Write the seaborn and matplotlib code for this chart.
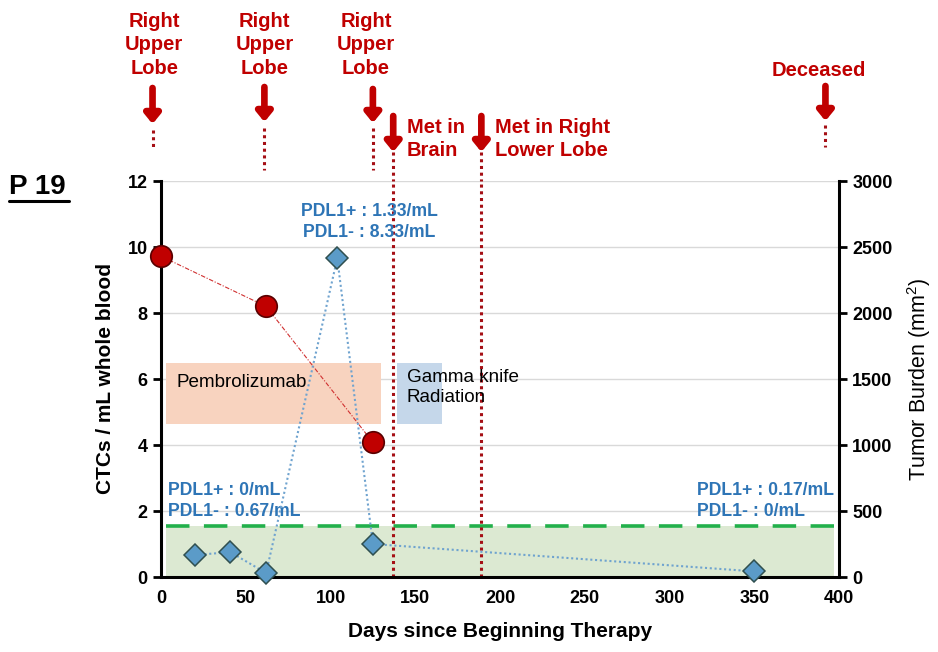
import matplotlib
matplotlib.use("Agg")
import matplotlib.pyplot as plt
import matplotlib.transforms as mtransforms
from matplotlib.patches import Rectangle
import seaborn as sns
import pandas as pd

# ---------------- data ----------------
ctc_days = [20, 41, 62, 104, 125, 350]
ctc_vals = [0.67, 0.75, 0.12, 9.66, 1.0, 0.17]
tumor_days = [0, 62, 125]
tumor_vals = [2430, 2050, 1020]
threshold = 1.55
x_ticks = [0, 50, 100, 150, 200, 250, 300, 350, 400]
y_ticks = [0, 2, 4, 6, 8, 10, 12]
y2_ticks = [0, 500, 1000, 1500, 2000, 2500, 3000]
scan_days = [-5, 61, 125]
event_days = [137, 189]
deceased_day = 392
pembro_span = [3, 130]
gamma_span = [139, 166]
treat_band = [4.64, 6.48]

DARKRED = "#C00000"
BLUE_TXT = "#2E75B6"

sns.set_style("white")
plt.rcParams["font.family"] = ["Liberation Sans", "DejaVu Sans"]
plt.rcParams["text.color"] = "black"
plt.rcParams["axes.labelcolor"] = "black"
plt.rcParams["xtick.color"] = "black"
plt.rcParams["ytick.color"] = "black"

fig = plt.figure(figsize=(9.38, 6.52), dpi=100)
ax = fig.add_axes([161 / 938, 1 - 577 / 652, (839 - 161) / 938, (577 - 181) / 652])
ax.set_xlim(0, 400)
ax.set_ylim(0, 12)

# grid
for yv in y_ticks[1:]:
    ax.axhline(yv, color="#d9d9d9", lw=1, zorder=0)

# green zone
ax.add_patch(Rectangle((3, 0), 394, threshold, facecolor="#DCE9D2", edgecolor="none", zorder=0.5))
ax.axhline(threshold, xmin=3 / 400, xmax=397 / 400, color="#22B04B", lw=2.6, ls=(0, (6.5, 4)), zorder=1)

# treatment boxes
ax.add_patch(Rectangle((pembro_span[0], treat_band[0]), pembro_span[1] - pembro_span[0],
                       treat_band[1] - treat_band[0], facecolor="#F8D3BF", edgecolor="none", zorder=0.6))
ax.add_patch(Rectangle((gamma_span[0], treat_band[0]), gamma_span[1] - gamma_span[0],
                       treat_band[1] - treat_band[0], facecolor="#C5D7EA", edgecolor="none", zorder=0.6))
ax.text(9, 5.9, "Pembrolizumab", fontsize=13.6, va="center", ha="left", zorder=2)
ax.text(145, 5.74, "Gamma knife\nRadiation", fontsize=13.6, va="center", ha="left", zorder=2,
        linespacing=1.25)

# event vertical dotted lines
for d in event_days:
    ax.axvline(d, color="#A50F15", lw=2.2, ls=(0, (1, 1.2)), zorder=1.5)

# twin axis for tumor burden
ax2 = ax.twinx()
ax2.set_ylim(0, 3000)
df_t = pd.DataFrame({"day": tumor_days, "burden": tumor_vals})
sns.lineplot(data=df_t, x="day", y="burden", ax=ax2, color="#D03030", lw=0.8,
             ls=(0, (4, 1.5, 1, 1.5)), marker="o", markersize=15.5,
             markerfacecolor=DARKRED, markeredgecolor="#5a0000", markeredgewidth=1.2,
             zorder=3, clip_on=False)

# CTC series on an overlay axis with the CTC scale
df_c = pd.DataFrame({"day": ctc_days, "ctc": ctc_vals})
ax3 = ax.twinx()
ax3.set_ylim(0, 12)
ax3.axis("off")
sns.lineplot(data=df_c, x="day", y="ctc", ax=ax3, color="#6FA3CF", lw=1.5, ls=(0, (1, 1.3)),
             marker="D", markersize=11, markerfacecolor="#5B9BC8", markeredgecolor="#2F4F4F",
             markeredgewidth=1.1, zorder=4, clip_on=False)
ax3.set_xlim(0, 400)

# axes styling
for a in (ax, ax2):
    a.set_xlim(0, 400)
ax.set_xticks(x_ticks)
ax.set_yticks(y_ticks)
ax2.set_yticks(y2_ticks)
ax.spines["top"].set_visible(False)
ax2.spines["top"].set_visible(False)
for s in ("left", "bottom"):
    ax.spines[s].set_linewidth(2.2)
    ax.spines[s].set_color("black")
ax.spines["right"].set_visible(False)
ax2.spines["left"].set_visible(False)
ax2.spines["bottom"].set_visible(False)
ax2.spines["right"].set_linewidth(2.2)
ax2.spines["right"].set_color("black")
ax.tick_params(axis="both", direction="out", length=6, width=2, labelsize=13, colors="black")
ax2.tick_params(axis="y", direction="out", length=6, width=2, labelsize=13, colors="black")
for lab in ax.get_xticklabels() + ax.get_yticklabels() + ax2.get_yticklabels():
    lab.set_fontweight("bold")
ax.set_xlabel("Days since Beginning Therapy", fontsize=15, fontweight="bold", labelpad=11)
ax.set_ylabel("CTCs / mL whole blood", fontsize=15, fontweight="bold", labelpad=9)
ax2.set_ylabel("Tumor Burden (mm$^\\mathregular{2}$)", fontsize=15.5, labelpad=9)

# PDL1 annotations
pdl_kw = dict(color=BLUE_TXT, fontsize=12.7, fontweight="bold", va="center",
              linespacing=1.3, zorder=5)
ax.text(123, 10.75, "PDL1+ : 1.33/mL\nPDL1- : 8.33/mL", ha="center", **pdl_kw)
ax.text(4, 2.3, "PDL1+ : 0/mL\nPDL1- : 0.67/mL", ha="left", **pdl_kw)
ax.text(316, 2.3, "PDL1+ : 0.17/mL\nPDL1- : 0/mL", ha="left", **pdl_kw)

# annotations above plot (x in data, y in figure pixels)
trans = mtransforms.blended_transform_factory(ax.transData, fig.transFigure)
def fy(p):
    return 1 - p / 652

def arrow(x, y_tail, y_tip):
    ax.annotate("", xy=(x, fy(y_tip)), xytext=(x, fy(y_tail)), xycoords=trans, textcoords=trans,
                arrowprops=dict(arrowstyle="-|>,head_width=0.45,head_length=0.55", lw=4.8,
                                color=DARKRED, shrinkA=0, shrinkB=0), annotation_clip=False)

def dots(x, y0, y1):
    ax.plot([x, x], [fy(y0), fy(y1)], transform=trans, color="#A50F15", lw=2.2,
            ls=(0, (1, 1.2)), clip_on=False)

ev_kw = dict(transform=trans, color=DARKRED, fontsize=14.5, fontweight="bold", va="center",
             linespacing=1.3)
text_x = [-4, 61, 121]
for tx in text_x:
    ax.text(tx, fy(45), "Right\nUpper\nLobe", ha="center", **ev_kw)
arrow(scan_days[0], 88, 124)
dots(scan_days[0], 130, 150)
arrow(scan_days[1], 87, 122)
dots(scan_days[1], 128, 170)
arrow(scan_days[2], 89, 123)
dots(scan_days[2], 128, 170)

arrow(event_days[0], 116, 152)
dots(event_days[0], 152, 181)
ax.text(event_days[0] + 8, fy(139), "Met in\nBrain", ha="left", **ev_kw)
arrow(event_days[1], 116, 152)
dots(event_days[1], 152, 181)
ax.text(event_days[1] + 8, fy(139), "Met in Right\nLower Lobe", ha="left", **ev_kw)

arrow(deceased_day, 86, 121)
dots(deceased_day, 125, 147)
ax.text(deceased_day - 4, fy(70), "Deceased", ha="center", **ev_kw)

fig.text(9 / 938, fy(187), "P 19", fontsize=20, fontweight="bold", ha="left", va="center")
fig.add_artist(plt.Line2D([9 / 938, 69 / 938], [fy(201), fy(201)], color="black", lw=2.2))

fig.savefig("out.png", dpi=100)
